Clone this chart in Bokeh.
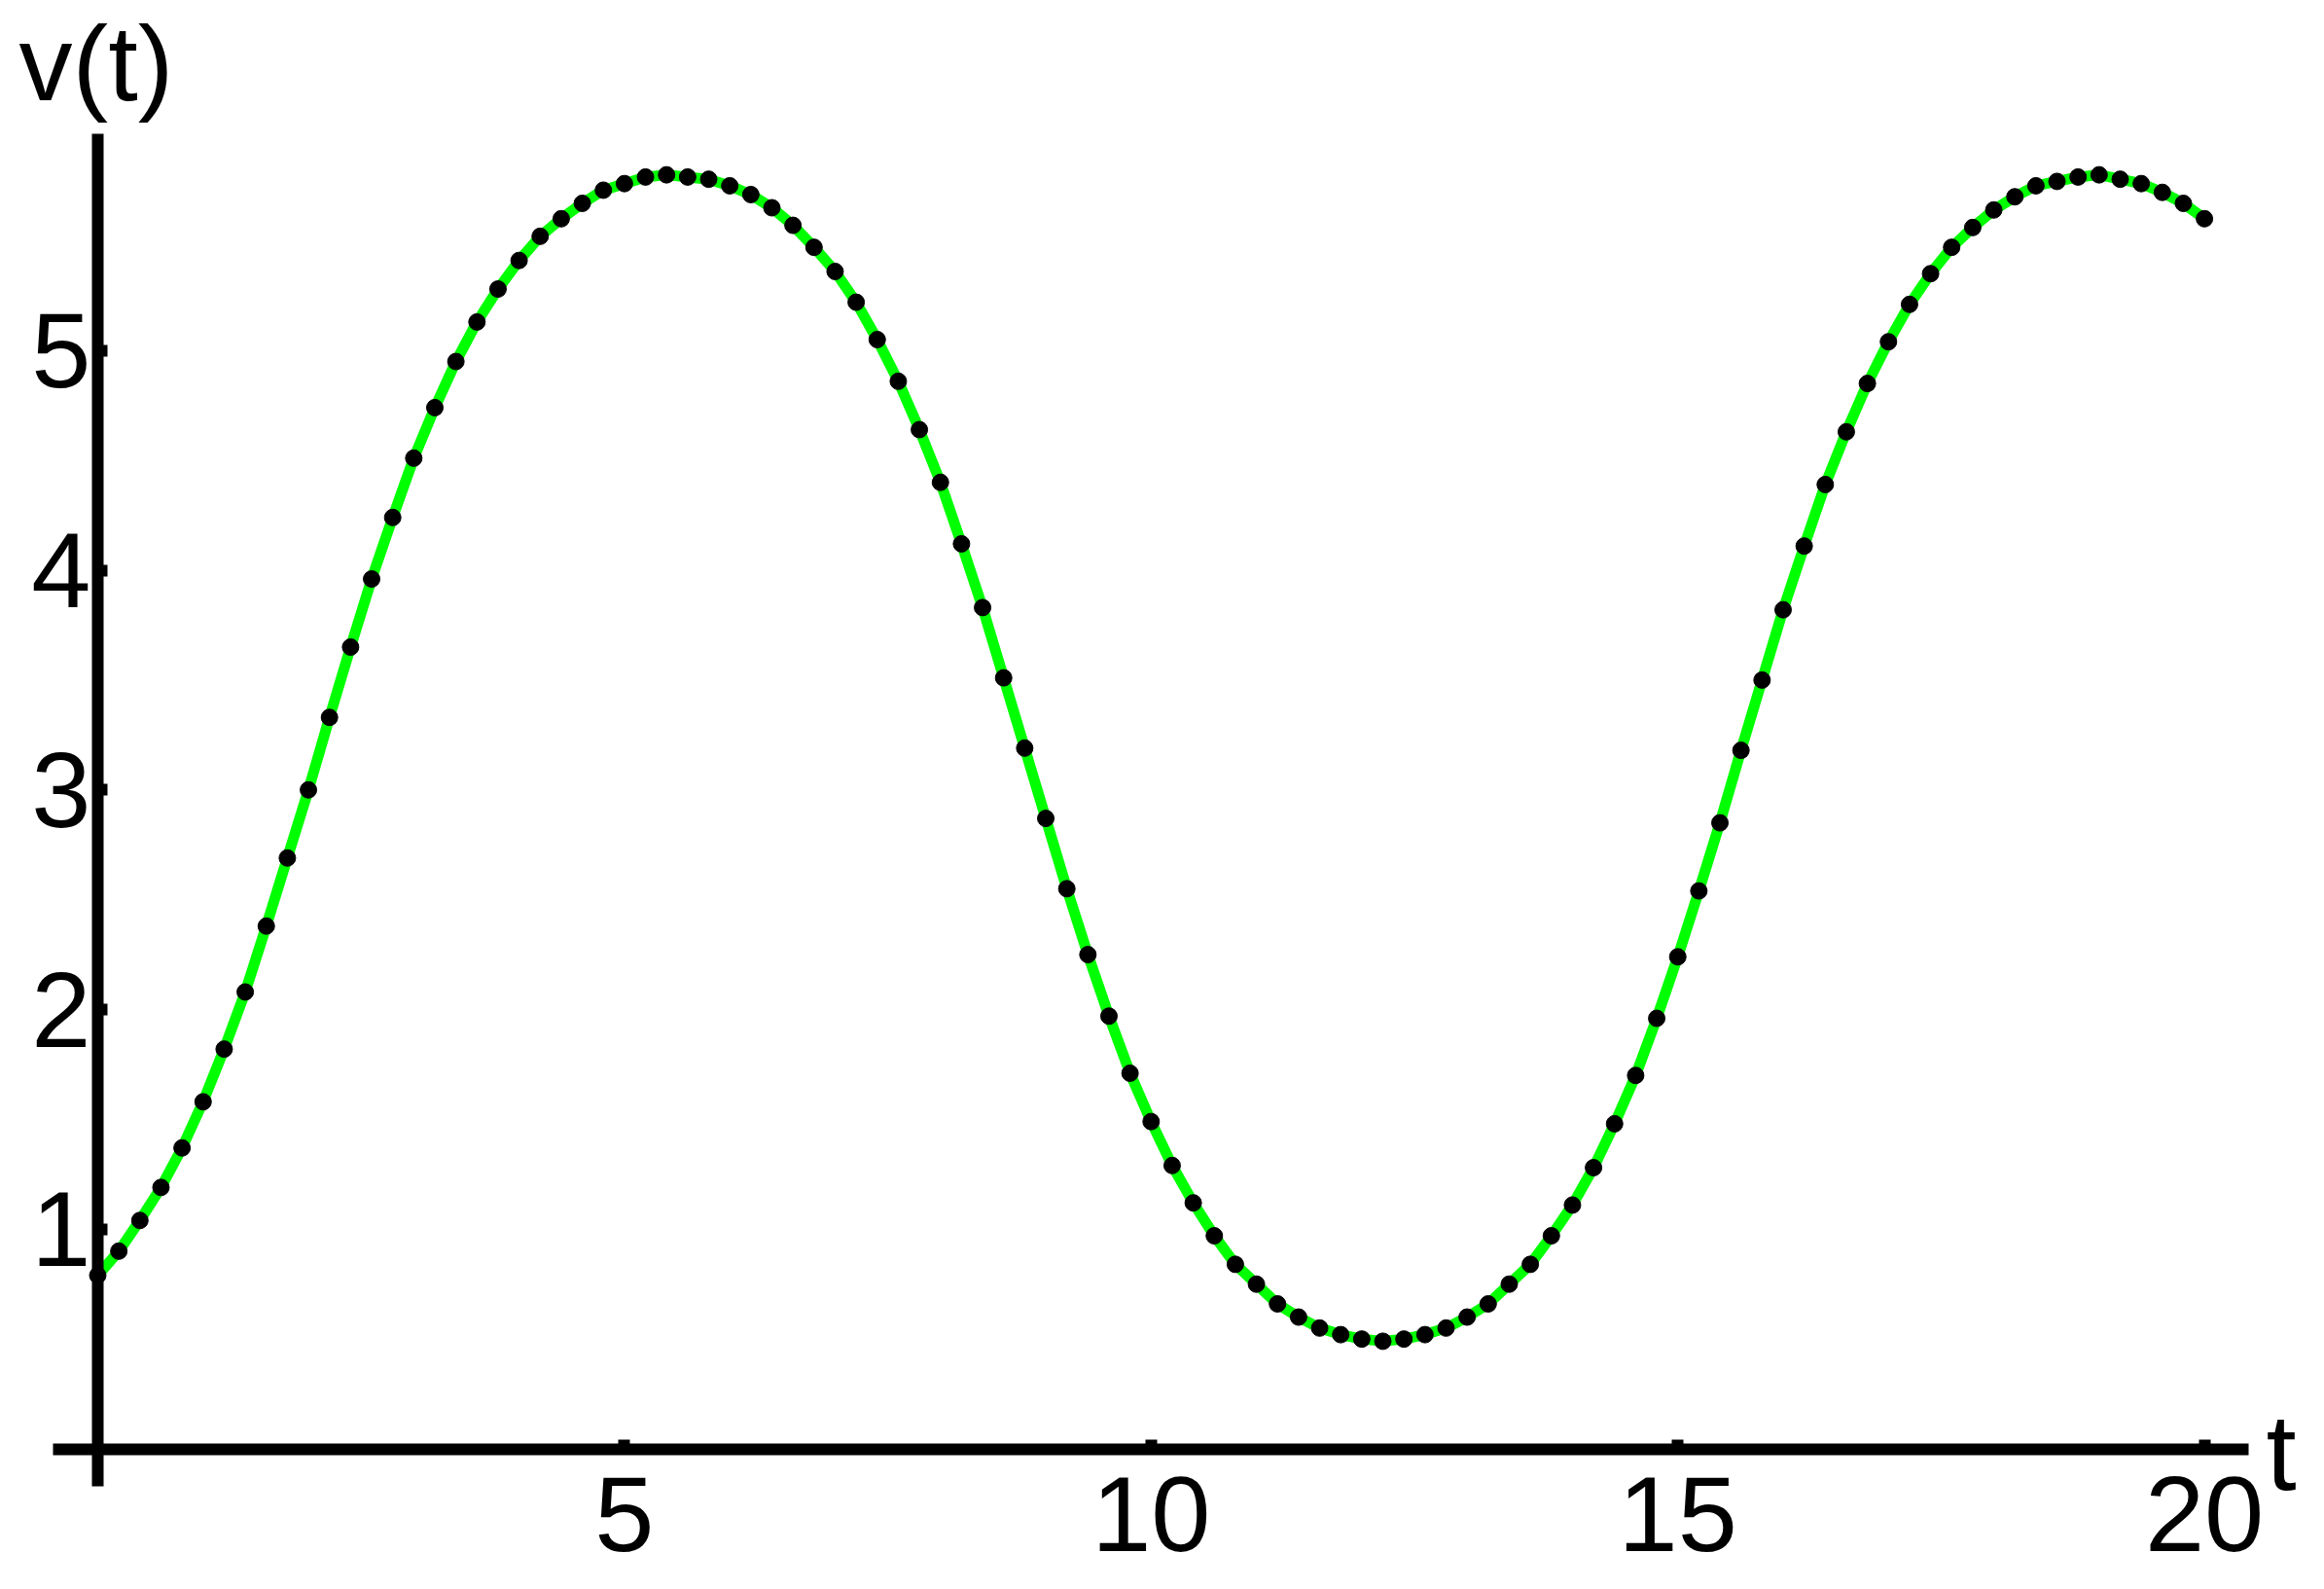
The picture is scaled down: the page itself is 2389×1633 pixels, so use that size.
from bokeh.plotting import figure
from bokeh.models import Range1d, Label, FixedTicker, LinearAxis
from bokeh.embed import file_html
from bokeh.resources import INLINE

# sample times (t) and read-off values v(t)
t_values = [0.0, 0.2, 0.4, 0.6, 0.8, 1.0, 1.2, 1.4, 1.6, 1.8,
            2.0, 2.2, 2.4, 2.6, 2.8, 3.0, 3.2, 3.4, 3.6, 3.8,
            4.0, 4.2, 4.4, 4.6, 4.8, 5.0, 5.2, 5.4, 5.6, 5.8,
            6.0, 6.2, 6.4, 6.6, 6.8, 7.0, 7.2, 7.4, 7.6, 7.8,
            8.0, 8.2, 8.4, 8.6, 8.8, 9.0, 9.2, 9.4, 9.6, 9.8,
            10.0, 10.2, 10.4, 10.6, 10.8, 11.0, 11.2, 11.4, 11.6, 11.8,
            12.0, 12.2, 12.4, 12.6, 12.8, 13.0, 13.2, 13.4, 13.6, 13.8,
            14.0, 14.2, 14.4, 14.6, 14.8, 15.0, 15.2, 15.4, 15.6, 15.8,
            16.0, 16.2, 16.4, 16.6, 16.8, 17.0, 17.2, 17.4, 17.6, 17.8,
            18.0, 18.2, 18.4, 18.6, 18.8, 19.0, 19.2, 19.4, 19.6, 19.8,
            20.0]
v_values = [0.79, 0.90, 1.04, 1.19, 1.37, 1.58, 1.82, 2.08, 2.38, 2.69,
            3.00, 3.33, 3.65, 3.96, 4.24, 4.51, 4.74, 4.95, 5.13, 5.28,
            5.41, 5.52, 5.60, 5.67, 5.73, 5.76, 5.79, 5.80, 5.79, 5.78,
            5.75, 5.71, 5.65, 5.57, 5.47, 5.36, 5.22, 5.05, 4.86, 4.64,
            4.40, 4.12, 3.83, 3.51, 3.19, 2.87, 2.55, 2.25, 1.97, 1.71,
            1.49, 1.29, 1.12, 0.97, 0.84, 0.75, 0.66, 0.60, 0.55, 0.52,
            0.50, 0.49, 0.50, 0.52, 0.55, 0.60, 0.66, 0.75, 0.84, 0.97,
            1.11, 1.28, 1.48, 1.70, 1.96, 2.24, 2.54, 2.85, 3.18, 3.50,
            3.82, 4.11, 4.39, 4.63, 4.85, 5.04, 5.21, 5.35, 5.47, 5.56,
            5.64, 5.70, 5.75, 5.77, 5.79, 5.80, 5.78, 5.76, 5.72, 5.67,
            5.60]
x_ticks = [5, 10, 15, 20]
y_ticks = [1, 2, 3, 4, 5]
x_label = "t"
y_label = "v(t)"

FONT = "Liberation Sans"

p = figure(width=2370, height=1630, title=None,
           x_range=Range1d(-0.9235, 20.964), y_range=Range1d(-0.6268, 6.5936),
           x_axis_type=None, y_axis_type=None,
           output_backend="svg", toolbar_location=None, min_border=0)
p.outline_line_color = None
p.background_fill_color = "white"
p.border_fill_color = "white"

common = dict(axis_line_width=12, axis_line_color="black",
              major_tick_line_width=12, major_tick_line_color="black",
              major_tick_in=10, major_tick_out=0,
              minor_tick_line_color=None,
              major_label_text_font=FONT,
              major_label_text_font_size="110px",
              major_label_text_color="black")

xaxis = LinearAxis(fixed_location=0, bounds=(-0.425, 20.42),
                   ticker=FixedTicker(ticks=x_ticks),
                   major_label_standoff=29, **common)
yaxis = LinearAxis(fixed_location=0, bounds=(-0.17, 5.987),
                   ticker=FixedTicker(ticks=y_ticks),
                   major_label_standoff=7, **common)
p.add_layout(xaxis, "below")
p.add_layout(yaxis, "left")

p.line(t_values, v_values, line_color="#00FF00", line_width=11)
p.scatter(t_values, v_values, size=17, fill_color="black", line_color="black")

p.add_layout(Label(x=20.585, y=-0.0155, text=x_label, text_font=FONT,
                   text_font_size="112px", text_align="left",
                   text_baseline="alphabetic", text_color="black"))
p.add_layout(Label(x=-0.748, y=6.31, text=y_label, text_font=FONT,
                   text_font_size="110px", text_align="left",
                   text_baseline="alphabetic", text_color="black"))

assert len(t_values) == len(v_values) == 101

open("out.html", "w").write(file_html(p, INLINE))
